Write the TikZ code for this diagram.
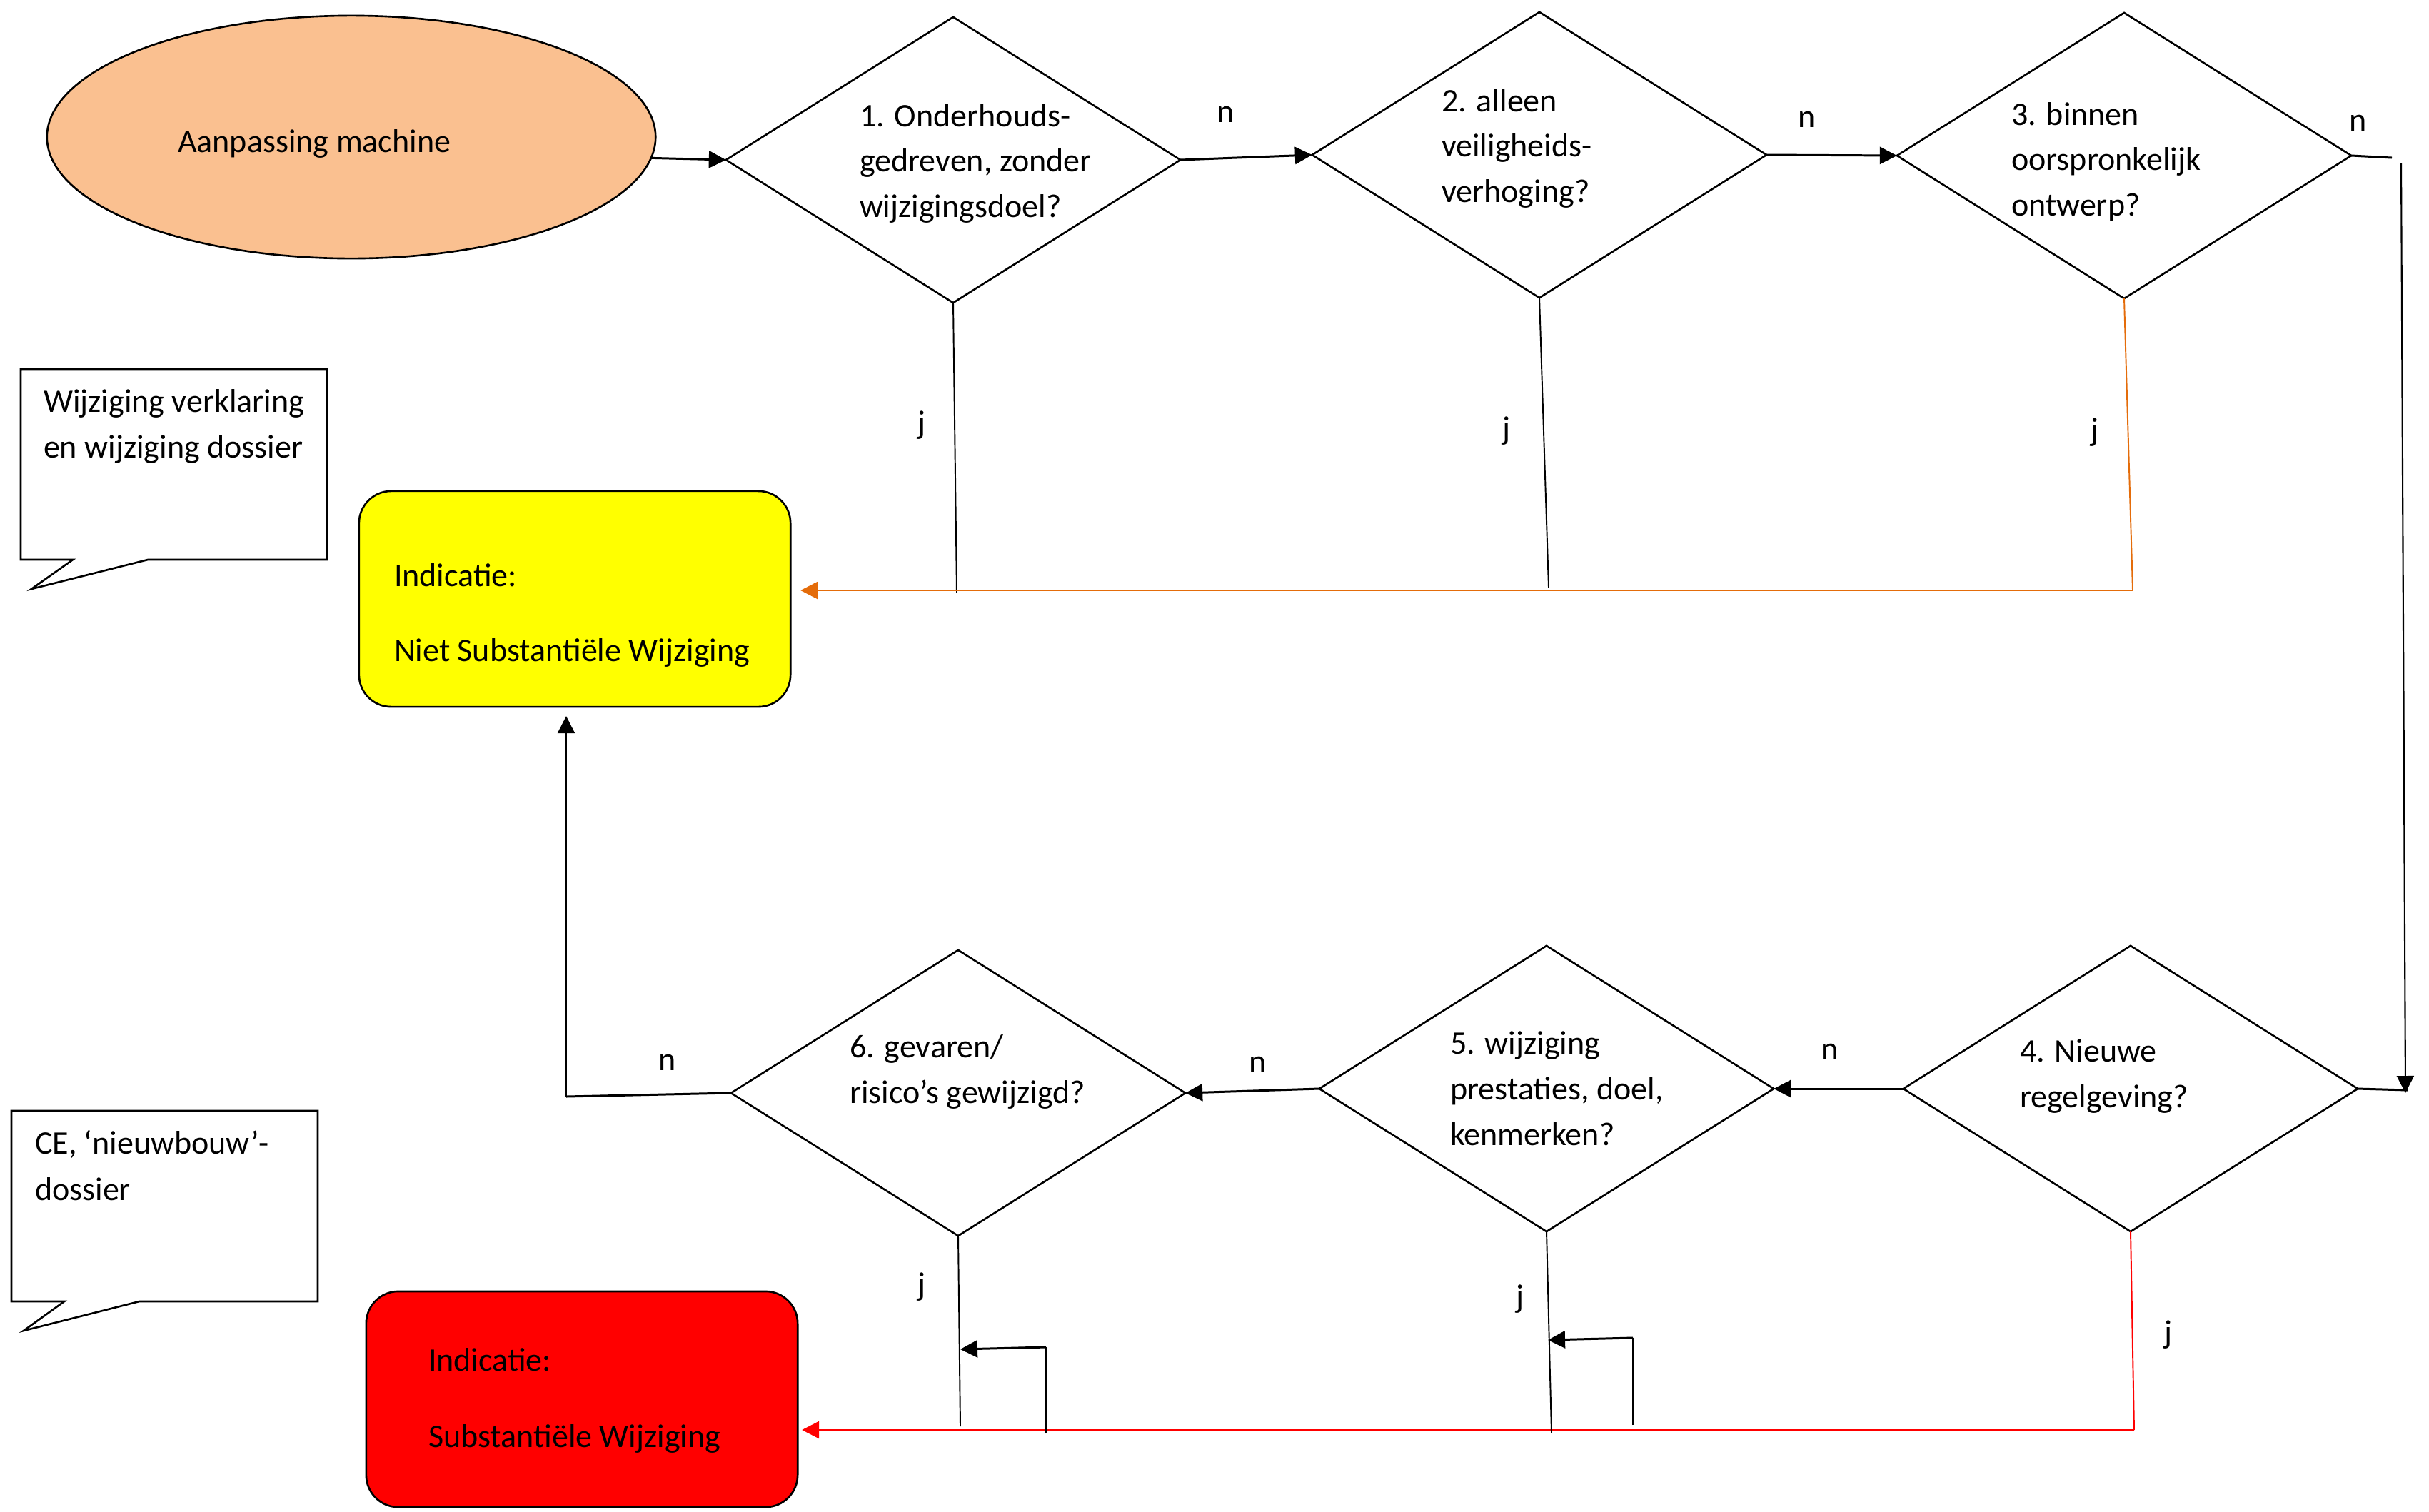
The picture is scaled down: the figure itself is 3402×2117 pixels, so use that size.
\documentclass[tikz,border=0pt]{standalone}
\usepackage{fontspec}
\setmainfont{Carlito}
\usetikzlibrary{shapes.geometric,arrows.meta}
\definecolor{ellfill}{RGB}{250,192,144}
\definecolor{orangeline}{RGB}{228,108,10}
\definecolor{boxyellow}{RGB}{255,255,0}
\definecolor{boxred}{RGB}{255,0,0}
\begin{document}
\begin{tikzpicture}[x=0.01cm,y=-0.01cm,
  every node/.style={font=\fontsize{13.1pt}{17.9pt}\selectfont, inner sep=0pt, outer sep=0pt},
  dia/.style={draw, diamond, minimum width=6.36cm, minimum height=4cm, line width=0.75pt},
  ellnode/.style={draw, ellipse, fill=ellfill, minimum width=8.52cm, minimum height=3.4cm, line width=0.75pt},
  rbox/.style={draw, rectangle, rounded corners=0.45cm, minimum width=6.04cm, minimum height=3.02cm, line width=0.75pt},
  txt/.style={anchor=base west},
  arr/.style={-{Triangle[length=0.24cm,width=0.24cm]}, line width=0.85pt},
  arrthin/.style={-{Triangle[length=0.24cm,width=0.24cm]}, line width=0.6pt},
  thickline/.style={line width=0.85pt},
  thinline/.style={line width=0.55pt},
  callout/.style={draw, line width=0.75pt, fill=white}
]
\useasboundingbox (0,0) rectangle (3402,2117);

% start ellipse
\node[ellnode] (ell) at (492,192) {};
\node[txt] (tell) at (249,213) {Aanpassing machine};

% diamonds
\node[dia] (d1) at (1335,224) {};
\node[dia] (d2) at (2156,217) {};
\node[dia] (d3) at (2975,218) {};
\node[dia] (d4) at (2984,1525) {};
\node[dia] (d5) at (2166,1525) {};
\node[dia] (d6) at (1342,1531) {};

\node[txt] (t1a) at (1204,177) {1. Onderhouds-};
\node[txt] (t1b) at (1204,240) {gedreven, zonder};
\node[txt] (t1c) at (1204,304) {wijzigingsdoel?};

\node[txt] (t2a) at (2019,156) {2. alleen};
\node[txt] (t2b) at (2019,219) {veiligheids-};
\node[txt] (t2c) at (2019,283) {verhoging?};

\node[txt] (t3a) at (2817,175) {3. binnen};
\node[txt] (t3b) at (2817,238) {oorspronkelijk};
\node[txt] (t3c) at (2817,302) {ontwerp?};

\node[txt] (t4a) at (2829,1487) {4. Nieuwe};
\node[txt] (t4b) at (2829,1551) {regelgeving?};

\node[txt] (t5a) at (2031,1476) {5. wijziging};
\node[txt] (t5b) at (2031,1540) {prestaties, doel,};
\node[txt] (t5c) at (2031,1604) {kenmerken?};

\node[txt] (t6a) at (1190,1481) {6. gevaren/};
\node[txt] (t6b) at (1190,1545) {risico’s gewijzigd?};

% result boxes
\node[rbox, fill=boxyellow] (yelbox) at (805,839) {};
\node[txt] (ty1) at (552,821) {Indicatie:};
\node[txt] (ty2) at (552,926) {Niet Substantiële Wijziging};

\node[rbox, fill=boxred] (redbox) at (815,1960) {};
\node[txt] (tr1) at (600,1920) {Indicatie:};
\node[txt] (tr2) at (600,2027) {Substantiële Wijziging};

% callouts
\draw[callout] (29,517) -- (458,517) -- (458,784) -- (207,784) -- (44,825) -- (102,784) -- (29,784) -- cycle;
\node[txt] (tc1a) at (61,577) {Wijziging verklaring};
\node[txt] (tc1b) at (61,641) {en wijziging dossier};

\draw[callout] (16,1556) -- (445,1556) -- (445,1823) -- (195,1823) -- (33,1864) -- (90,1823) -- (16,1823) -- cycle;
\node[txt] (tc2a) at (49,1616) {CE, ‘nieuwbouw’-};
\node[txt] (tc2b) at (49,1681) {dossier};

% top row connectors
\draw[arr] (ell.-4.4) -- (d1.west);
\draw[arr] (d1.east) -- (d2.west);
\draw[arr] (d2.east) -- (d3.west);
\coordinate (c3) at (3350,221);
\draw[thickline] (d3.east) -- (c3);
\coordinate (v1) at (3363,228);
\coordinate (v2) at (3369,1531);
\draw[arrthin] (v1) -- (v2);
\coordinate (c4) at (3372,1527);
\draw[thickline] (d4.east) -- (c4);

% bottom row connectors
\draw[arr] (d4.west) -- (d5.east);
\draw[arr] (d5.west) -- (d6.east);
\coordinate (c6) at (793,1536);
\draw[thickline] (d6.west) -- (c6);
\draw[arrthin, shorten >=0.13cm] (c6) -- (c6 |- yelbox.south);

% j lines top
\coordinate (j1e) at (1340,830);
\draw[thinline] (d1.south) -- (j1e);
\coordinate (j2e) at (2169,823);
\draw[thinline] (d2.south) -- (j2e);
\coordinate (oc) at (2987,827);
\draw[orangeline, line width=0.55pt] (d3.south) -- (oc);
\draw[orangeline, arrthin, line width=0.75pt, shorten >=0.14cm] (oc) -- (oc -| yelbox.east);

% j lines bottom
\coordinate (rc) at (2989,2003);
\draw[boxred, line width=0.55pt] (d4.south) -- (rc);
\draw[boxred, arrthin, line width=0.75pt, shorten >=0.06cm] (rc) -- (rc -| redbox.east);

\coordinate (j5e) at (2173,2007);
\draw[thinline] (d5.south) -- (j5e);
\coordinate (l5b) at (2287,1996);
\coordinate (l5t) at (2287,1874);
\coordinate (l5a) at (2168,1877);
\draw[thinline] (l5b) -- (l5t);
\draw[arr] (l5t) -- (l5a);

\coordinate (j6e) at (1345,1998);
\draw[thinline] (d6.south) -- (j6e);
\coordinate (l6b) at (1465,2008);
\coordinate (l6t) at (1465,1887);
\coordinate (l6a) at (1345,1890);
\draw[thinline] (l6b) -- (l6t);
\draw[arr] (l6t) -- (l6a);

% labels
\node (n1) at (1717,160) {n};
\node (n2) at (2531,167) {n};
\node (n3) at (3303,172) {n};
\node (j1) at (1291,596) {j};
\node (j2) at (2110,604) {j};
\node (j3) at (2934,606) {j};
\node (n4) at (2563,1473) {n};
\node (n5) at (1762,1491) {n};
\node (n6) at (935,1488) {n};
\node (j4) at (3037,1870) {j};
\node (j5) at (2129,1820) {j};
\node (j6) at (1291,1803) {j};
\end{tikzpicture}
\end{document}
